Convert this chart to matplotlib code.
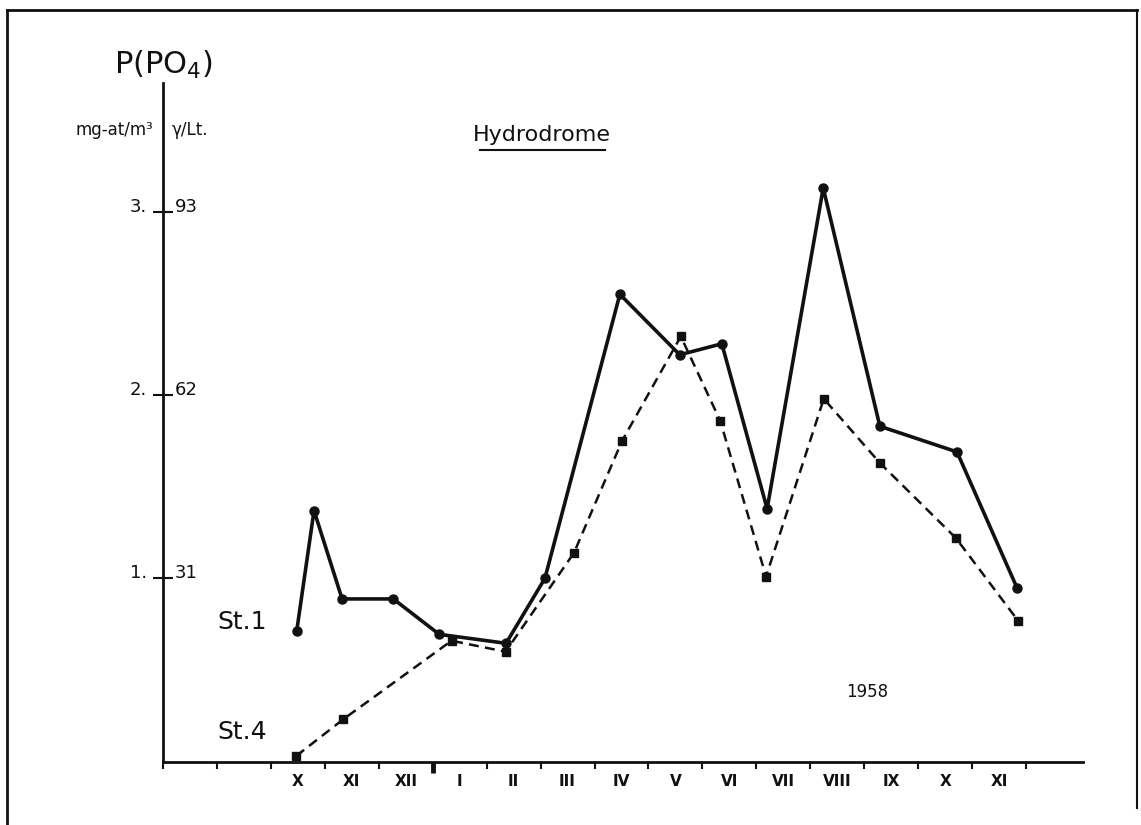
import matplotlib
matplotlib.use("Agg")
import matplotlib.pyplot as plt
from matplotlib.lines import Line2D

# month units: 0 = start of axis, each unit one month, Oct 1957 spans 2..3
MONTH_LABELS = ["X", "XI", "XII", "I", "II", "III", "IV", "V", "VI", "VII",
                "VIII", "IX", "X", "XI"]
MONTH_CENTERS = [2.5 + i for i in range(len(MONTH_LABELS))]

ST1_X = [2.48, 2.80, 3.32, 4.27, 5.12, 6.36, 7.08, 8.47, 9.58, 10.36,
         11.20, 12.24, 13.29, 14.72, 15.83]
ST1_Y = [0.715, 1.37, 0.888, 0.888, 0.695, 0.646, 1.00, 2.55, 2.22, 2.28,
         1.38, 3.13, 1.83, 1.69, 0.95]

ST4_X = [2.47, 3.34, 5.35, 6.35, 7.62, 8.51, 9.60, 10.33, 11.18, 12.25,
         13.29, 14.70, 15.85]
ST4_Y = [0.031, 0.231, 0.66, 0.60, 1.14, 1.75, 2.32, 1.86, 1.01, 1.98,
         1.63, 1.22, 0.77]

Y_TICKS = [1, 2, 3]
Y_LEFT_LABELS = ["1.", "2.", "3."]
Y_RIGHT_LABELS = ["31", "62", "93"]

W, H = 1141, 825
INK = "#111111"

plt.rcParams["font.family"] = ["DejaVu Sans"]

fig = plt.figure(figsize=(W / 100, H / 100), dpi=100)
fig.patch.set_facecolor("white")


def fx(px):
    return px / W


def fy(py):
    return 1 - py / H


x0, x1 = 163, 1083
y0, ytop = 761.7, 83
ax = fig.add_axes([fx(x0), fy(y0), fx(x1) - fx(x0), fy(ytop) - fy(y0)])
ax.set_xlim(0, (x1 - x0) / 53.94)
ax.set_ylim(0, (y0 - ytop) / 183.3)
ax.set_facecolor("none")

for side in ("top", "right"):
    ax.spines[side].set_visible(False)
for side in ("left", "bottom"):
    ax.spines[side].set_color(INK)
    ax.spines[side].set_linewidth(2.0)

# x ticks: boundaries as marks, month names centred between them
ax.set_xticks(range(0, 17))
ax.set_xticklabels([])
ax.tick_params(axis="x", which="major", direction="out", length=5, width=1.5, color=INK)
ax.set_xticks(MONTH_CENTERS, minor=True)
ax.set_xticklabels(MONTH_LABELS, minor=True, fontsize=11, fontweight="bold", color=INK)
ax.tick_params(axis="x", which="minor", length=0, pad=9)
# year boundary mark
ax.plot([5, 5], [0, -0.06], color=INK, lw=3.5, clip_on=False, solid_capstyle="butt")

ax.set_yticks(Y_TICKS)
ax.set_yticklabels([])
ax.tick_params(axis="y", direction="inout", length=14, width=1.5, color=INK)

for yv, lt, rt in zip(Y_TICKS, Y_LEFT_LABELS, Y_RIGHT_LABELS):
    ax.text(-0.30, yv, lt, ha="right", va="baseline", fontsize=13, color=INK)
    ax.text(0.22, yv, rt, ha="left", va="baseline", fontsize=13, color=INK)

ax.plot(ST1_X, ST1_Y, color=INK, lw=2.6, marker="o", markersize=6.5, clip_on=False)
ax.plot(ST4_X, ST4_Y, color=INK, lw=1.8, linestyle=(0, (4, 2.5)), marker="s",
        markersize=6, clip_on=False)

# labels
fig.text(fx(163), fy(65), "P(PO$_4$)", ha="center", va="center", fontsize=22, color=INK)
fig.text(fx(153), fy(130), "mg-at/m³", ha="right", va="center", fontsize=12, color=INK)
fig.text(fx(172), fy(130), "γ/Lt.", ha="left", va="center", fontsize=12, color=INK)
fig.text(fx(542), fy(135), "Hydrodrome", ha="center", va="center", fontsize=16, color=INK)
fig.add_artist(Line2D([fx(480), fx(605)], [fy(150), fy(150)], color=INK, lw=1.5))
fig.text(fx(217), fy(622), "St.1", ha="left", va="center", fontsize=18, color=INK)
fig.text(fx(217), fy(732), "St.4", ha="left", va="center", fontsize=18, color=INK)
fig.text(fx(867), fy(692), "1958", ha="center", va="center", fontsize=12, color=INK)

# page frame
fig.add_artist(Line2D([fx(7), fx(7)], [fy(10), 0], color=INK, lw=2))
fig.add_artist(Line2D([fx(7), fx(1137)], [fy(10), fy(10)], color=INK, lw=2))
fig.add_artist(Line2D([fx(1137), fx(1137)], [fy(10), fy(808)], color=INK, lw=1.5))

fig.savefig("out.png", dpi=100, facecolor="white")
